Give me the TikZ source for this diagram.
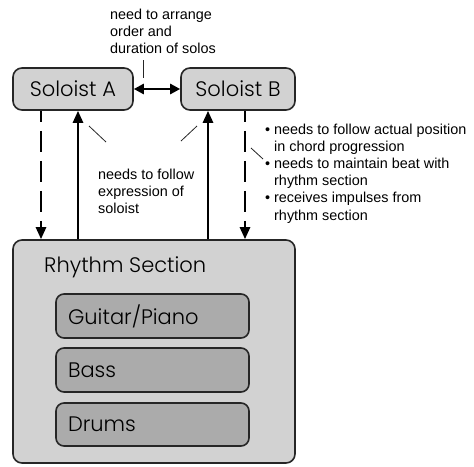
\documentclass[tikz,border=0pt]{standalone}
\usepackage{fontspec}
\setmainfont{Liberation Sans}
\newfontfamily\boxfont{Poppins Light}
\usetikzlibrary{arrows.meta}
\definecolor{lightfill}{HTML}{D2D2D2}
\definecolor{darkfill}{HTML}{ABABAB}
\definecolor{edgecol}{HTML}{262626}
\begin{document}
\begin{tikzpicture}[x=1pt,y=-1pt,
  box/.style={draw=edgecol, line width=1.6pt, rounded corners=9pt, fill=lightfill, inner sep=0pt, font=\boxfont\fontsize{21}{25}\selectfont},
  innerbox/.style={box, fill=darkfill, rounded corners=8pt, minimum width=193pt, text width=169pt, align=left, inner xsep=12pt},
  note/.style={font=\fontsize{14.4}{17.2}\selectfont, align=left, anchor=north west, inner sep=0pt},
  flow/.style={line width=2.6pt, -{Triangle[length=12pt,width=10pt]}},
  dflow/.style={flow, dash pattern=on 21pt off 9pt, dash phase=10pt},
  leader/.style={line width=0.8pt, draw=edgecol}]
\useasboundingbox (0,0) rectangle (474,466);
% boxes
\node[box, minimum width=120pt, minimum height=42pt] (A) at (73,89) {Soloist A};
\node[box, minimum width=114pt, minimum height=42pt] (B) at (238,89) {Soloist B};
\node[box, minimum width=282pt, minimum height=223pt] (R) at (154,351.5) {};
\node[anchor=west, inner sep=0pt, font=\boxfont\fontsize{21}{25}\selectfont] (RT) at (44,267) {Rhythm Section};
\node[innerbox, minimum height=44pt] (G) at (152.5,316) {Guitar/Piano};
\node[innerbox, minimum height=44pt] (Ba) at (152.5,370) {Bass};
\node[innerbox, minimum height=43pt] (D) at (152.5,424.5) {Drums};
% arrow columns
\coordinate (c1) at (41,0);
\coordinate (c2) at (78,0);
\coordinate (c3) at (208,0);
\coordinate (c4) at (245,0);
\draw[dflow] (A.south -| c1) -- (R.north -| c1);
\draw[flow] (R.north -| c2) -- (A.south -| c2);
\draw[flow] (R.north -| c3) -- (B.south -| c3);
\draw[dflow] (B.south -| c4) -- (R.north -| c4);
\draw[line width=2.6pt, {Triangle[length=10pt,width=10pt]}-{Triangle[length=10pt,width=10pt]}] (A.east) -- (B.west);
% notes
\node[note] (topnote) at (110,8.5) {need to arrange\\order and\\duration of solos};
\node[note] (midnote) at (98,168.5) {needs to follow\\expression of\\soloist};
\node[note] (rightnote) at (274,123.5) {\llap{\textbullet\ }needs to follow actual position\\in chord progression\\\llap{\textbullet\ }needs to maintain beat with\\rhythm section\\\llap{\textbullet\ }receives impulses from\\rhythm section};
% leaders
\coordinate (l1a) at (143,60); \coordinate (l1b) at (143,78);
\coordinate (l2a) at (89,126); \coordinate (l2b) at (106,142);
\coordinate (l3a) at (197,126); \coordinate (l3b) at (181,141);
\coordinate (l4a) at (251,148); \coordinate (l4b) at (263,159);
\draw[leader] (l1a) -- (l1b);
\draw[leader] (l2a) -- (l2b);
\draw[leader] (l3a) -- (l3b);
\draw[leader] (l4a) -- (l4b);
\end{tikzpicture}
\end{document}
